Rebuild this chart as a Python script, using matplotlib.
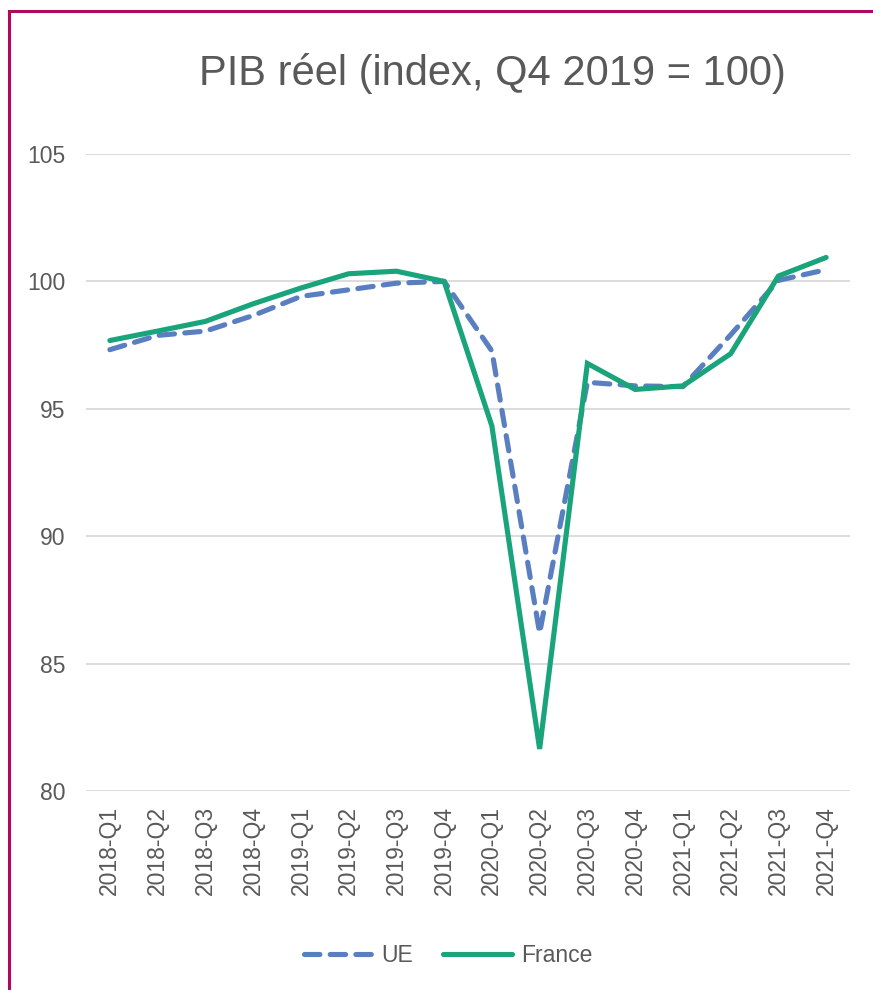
import matplotlib
matplotlib.use("Agg")
import matplotlib.pyplot as plt
from matplotlib.patches import Rectangle

plt.rcParams["font.family"] = ["Liberation Sans", "DejaVu Sans"]

quarters = ["2018-Q1", "2018-Q2", "2018-Q3", "2018-Q4",
            "2019-Q1", "2019-Q2", "2019-Q3", "2019-Q4",
            "2020-Q1", "2020-Q2", "2020-Q3", "2020-Q4",
            "2021-Q1", "2021-Q2", "2021-Q3", "2021-Q4"]
ue = [97.32, 97.88, 98.05, 98.66, 99.41, 99.67, 99.93, 100.0,
      97.27, 86.2, 96.04, 95.9, 95.87, 97.9, 100.04, 100.46]
france = [97.68, 98.05, 98.43, 99.12, 99.74, 100.3, 100.4, 100.0,
          94.33, 81.65, 96.78, 95.76, 95.9, 97.16, 100.21, 100.94]
yticks = [80, 85, 90, 95, 100, 105]

GREY = "#595959"
UE_COL = "#5A7FC1"
FR_COL = "#19A47B"
FS = 16.5

fig = plt.figure(figsize=(8.73, 9.9), dpi=100)
ax = fig.add_axes([86 / 873, 1 - 791 / 990, 764 / 873, 637 / 990])

x = range(len(quarters))
ax.plot(x, ue, color=UE_COL, lw=3.7, ls=(0, (3.0, 2.0)),
        dash_capstyle="round", solid_capstyle="round", label="UE", zorder=3)
ax.plot(x, france, color=FR_COL, lw=3.7, solid_capstyle="round",
        solid_joinstyle="miter", label="France", zorder=4)

ax.set_xlim(-0.5, len(quarters) - 0.5)
ax.set_ylim(80, 105)
ax.set_yticks(yticks)
ax.set_xticks(list(x))
ax.set_xticklabels(quarters, rotation=90)
ax.tick_params(axis="both", length=0, labelsize=FS, colors=GREY)
ax.tick_params(axis="y", pad=15)
ax.tick_params(axis="x", pad=11)
ax.grid(axis="y", color="#D9D9D9", lw=1.3)
ax.set_axisbelow(True)
for s in ax.spines.values():
    s.set_visible(False)

fig.text(492 / 873, 1 - 74 / 990, "PIB réel (index, Q4 2019 = 100)",
         ha="center", va="center", fontsize=30, color=GREY)

leg = fig.legend(loc="center", bbox_to_anchor=(448 / 873, 1 - 956 / 990),
                 ncol=2, frameon=False, fontsize=FS, handlelength=3.0,
                 handletextpad=0.4, columnspacing=1.3)
for t in leg.get_texts():
    t.set_color(GREY)

# cadre du graphique
fig.patches.append(Rectangle((9 / 873, -0.1), 1.2, 1 - 11 / 990 + 0.1,
                             transform=fig.transFigure, fill=False,
                             edgecolor="#B0085E", lw=2.2))

fig.savefig("out.png", dpi=100)
